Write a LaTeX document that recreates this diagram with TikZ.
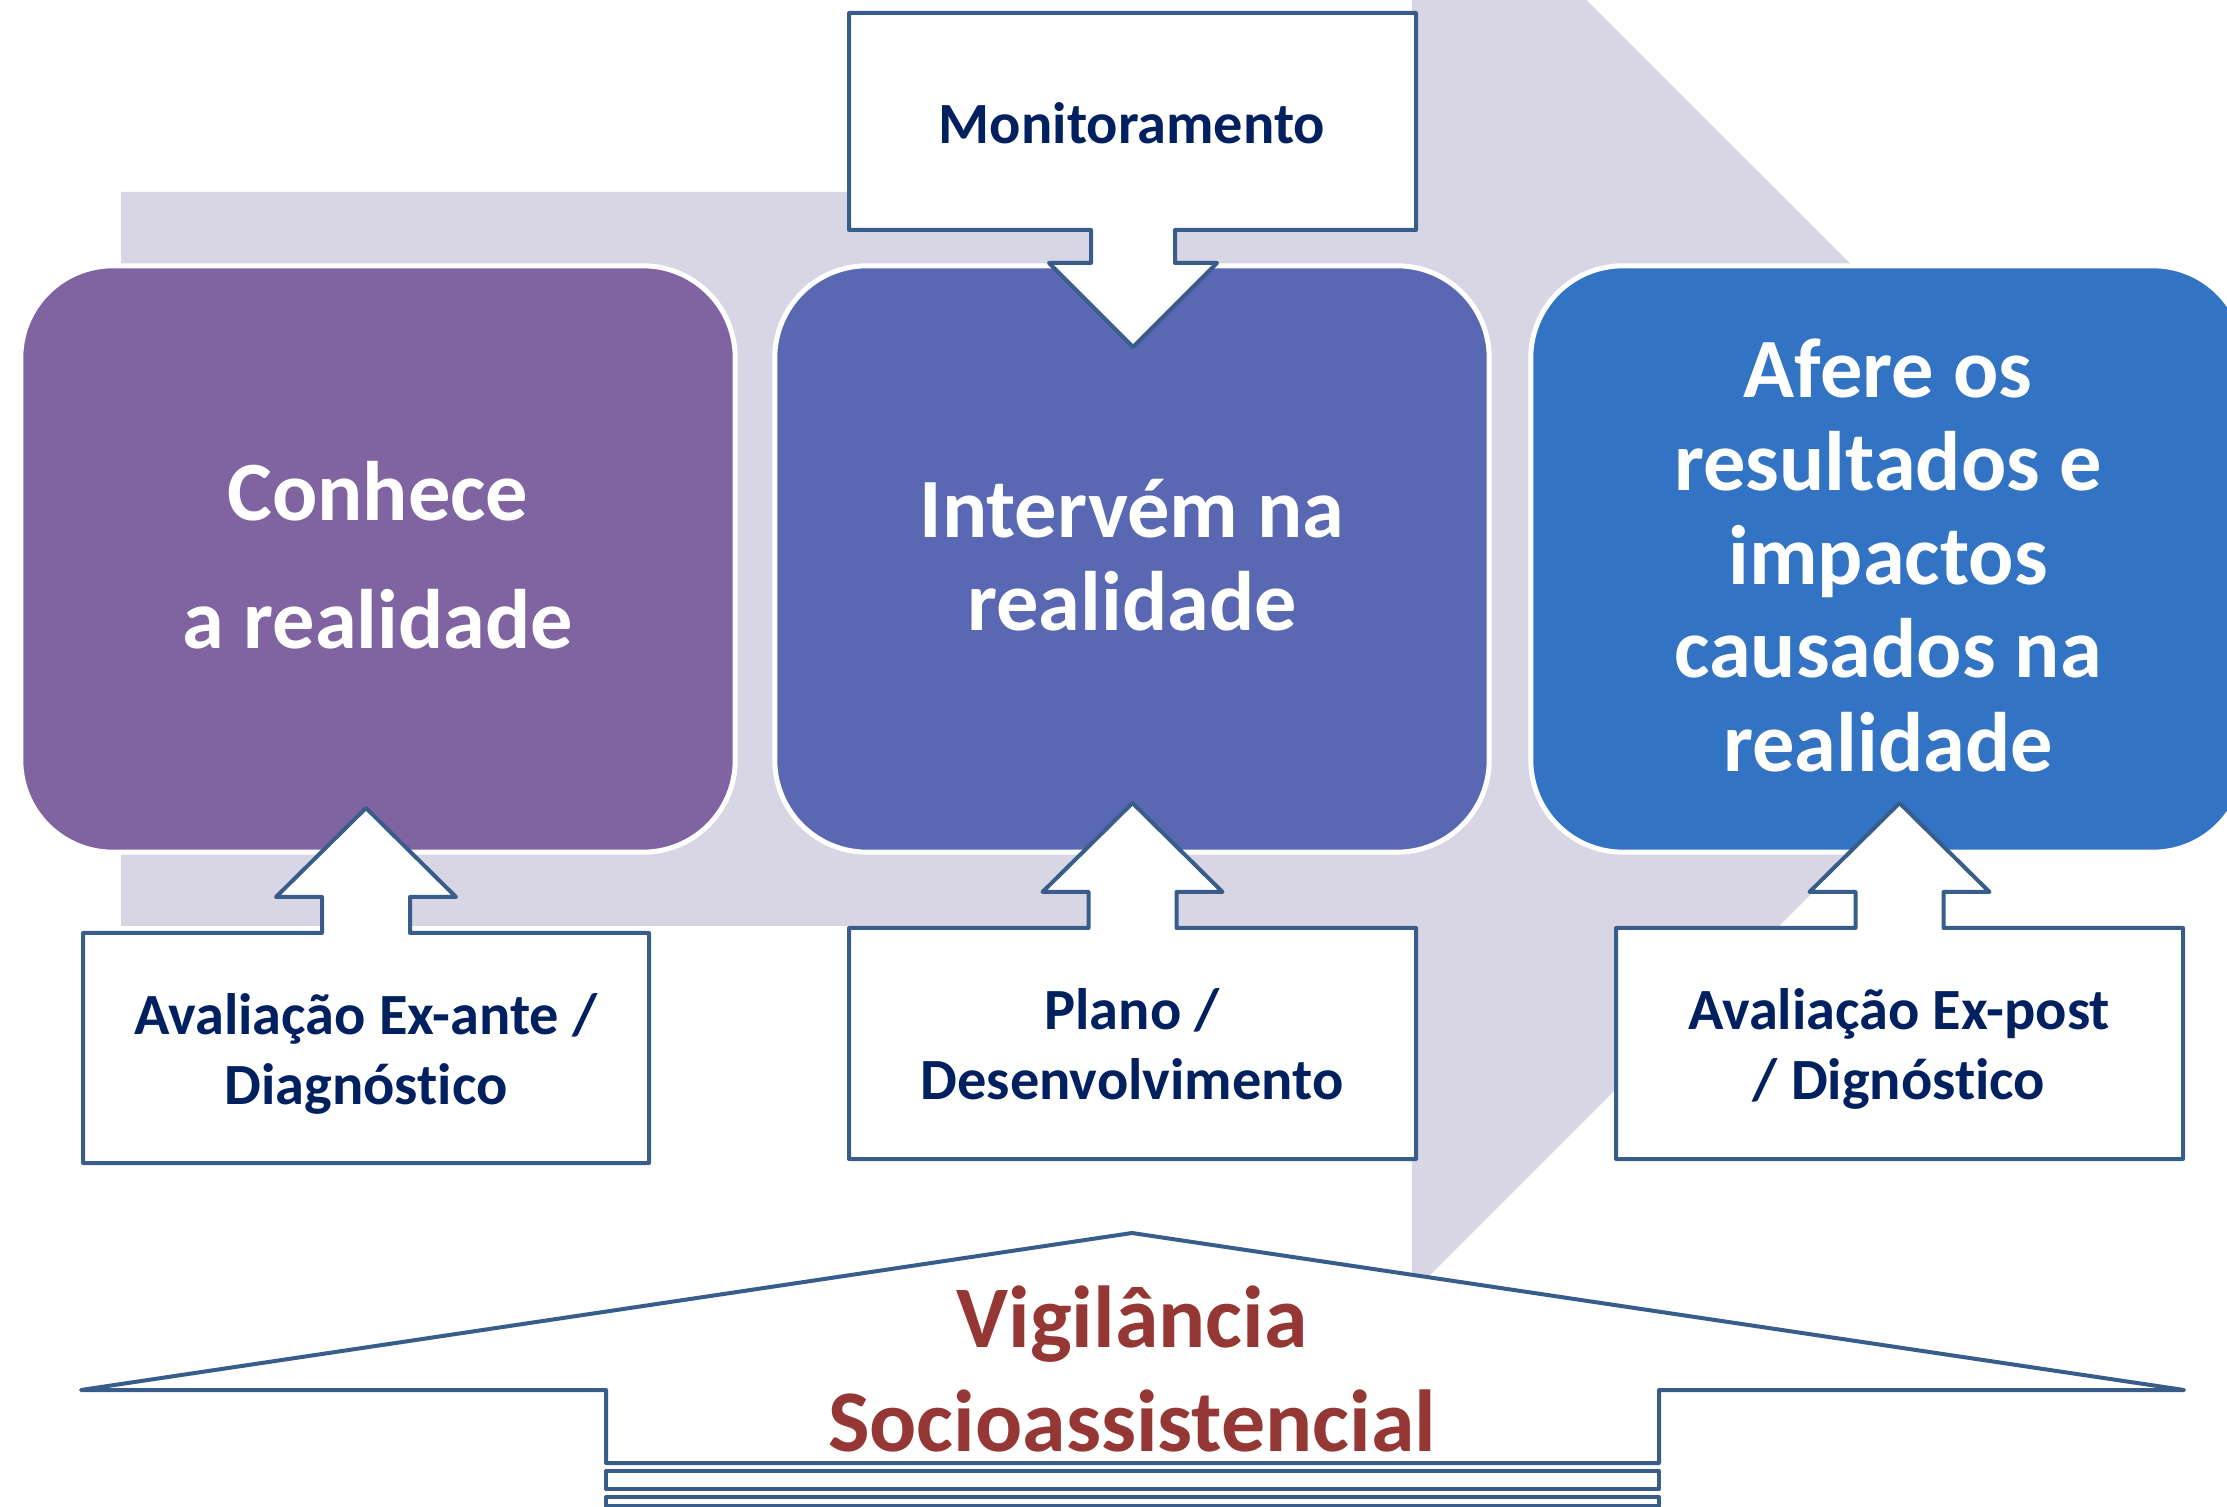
\documentclass[tikz,border=0pt]{standalone}
\usepackage{fontspec}
\setmainfont{Carlito}[Ligatures=NoCommon]

\definecolor{greyarrow}{RGB}{216,213,228}
\definecolor{boxpurple}{RGB}{128,100,162}
\definecolor{boxindigo}{RGB}{90,103,178}
\definecolor{boxblue}{RGB}{51,115,196}
\definecolor{lineblue}{RGB}{56,93,138}
\definecolor{navytext}{RGB}{0,32,96}
\definecolor{redtext}{RGB}{149,55,53}

\tikzset{
  stage/.style={rectangle, rounded corners=0.92cm, draw=white, line width=0.05cm,
    minimum width=7.14cm, minimum height=5.86cm, inner sep=0pt, text depth=0.08cm,
    text=white, align=center, font=\bfseries\fontsize{24}{26.6}\selectfont},
  callout/.style={draw=lineblue, fill=white, line width=0.04cm, line join=round},
  calltext/.style={text=navytext, align=center, inner sep=0pt,
    font=\bfseries\fontsize{16.6}{19.9}\selectfont},
}

% box with an arrow on top: left, right, top, bottom
\newcommand{\upcallout}[4]{%
  \pgfmathsetmacro\tipx{(#1+#2)/2}
  \draw[callout] (#1,#3) -- ({\tipx-44},#3) -- ({\tipx-44},{#3-36})
    -- ({\tipx-90},{#3-36}) -- (\tipx,{#3-125}) -- ({\tipx+90},{#3-36})
    -- ({\tipx+44},{#3-36}) -- ({\tipx+44},#3) -- (#2,#3) -- (#2,#4) -- (#1,#4) -- cycle;}

\begin{document}
\begin{tikzpicture}[x=0.01cm, y=-0.01cm]
\useasboundingbox (0,0) rectangle (2227,1507);
\clip (0,0) rectangle (2227,1507);

% big arrow behind
\fill[greyarrow] (121,192) -- (1412,192) -- (1412,-174) -- (2146,559)
  -- (1412,1293) -- (1412,926) -- (121,926) -- cycle;

% the three stages
\node[stage, fill=boxpurple] (conhece) at (378,559) {Conhece\\[10pt]a realidade};
\node[stage, fill=boxindigo] (intervem) at (1132,559) {Intervém na\\realidade};
\node[stage, fill=boxblue] (afere) at (1888,559) {Afere os\\resultados e\\impactos\\causados na\\realidade};

% monitoramento, arrow down
\draw[callout] (849,13) -- (1416,13) -- (1416,230) -- (1175,230) -- (1175,263)
  -- (1217,263) -- (1133,347) -- (1049,263) -- (1091,263) -- (1091,230) -- (849,230) -- cycle;
\node[calltext] (monit) at (1132,123) {Monitoramento};

% boxes below, arrows up
\upcallout{83}{649}{933}{1163}
\upcallout{849}{1416}{928}{1159}
\upcallout{1616}{2183}{928}{1159}
\node[calltext] (exante) at (366,1054) {Avaliação Ex-ante /\\Diagnóstico};
\node[calltext] (plano) at (1132,1044) {Plano /\\Desenvolvimento};
\node[calltext] (expost) at (1899,1049) {Avaliação Ex-post\\/ Dignóstico};

% vigilancia, striped arrow up
\draw[callout] (1132,1233) -- (2184,1390) -- (1659,1390) -- (1659,1463)
  -- (606,1463) -- (606,1390) -- (81,1390) -- cycle;
\draw[callout] (606,1471) rectangle (1659,1489);
\draw[callout] (606,1497) rectangle (1659,1506);
\node[text=redtext, align=center, inner sep=0pt, font=\bfseries\fontsize{25}{29.6}\selectfont]
  (vigil) at (1132,1369) {Vigilância\\Socioassistencial};
\end{tikzpicture}
\end{document}
